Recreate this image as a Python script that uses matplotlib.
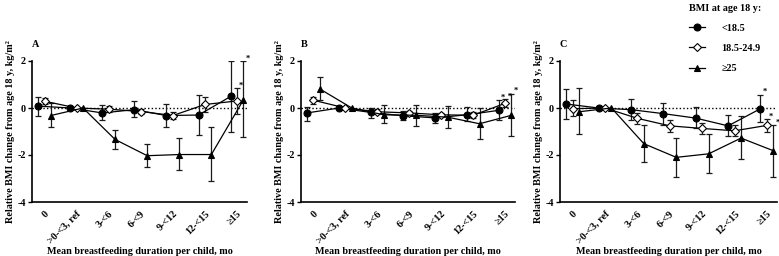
import matplotlib
matplotlib.use("Agg")
import matplotlib.pyplot as plt
from matplotlib.lines import Line2D
import numpy as np

plt.rcParams['font.family'] = ['Liberation Serif', 'DejaVu Serif']
plt.rcParams['font.weight'] = 'bold'

categories = ["0", ">0-<3, ref", "3-<6", "6-<9", "9-<12", "12-<15", "≥15"]
series_names = ["<18.5", "18.5-24.9", "≥25"]
panel_letters = ["A", "B", "C"]

# Panel A
a_low = [0.08, 0.0, -0.21, -0.07, -0.32, -0.30, 0.49]
a_low_hi = [0.48, 0.0, 0.13, 0.28, 0.17, 0.55, 2.0]
a_low_lo = [-0.33, 0.0, -0.50, -0.40, -0.79, -1.16, -1.03]
a_mid = [0.29, 0.0, -0.05, -0.15, -0.32, 0.15, 0.30]
a_mid_hi = [0.42, 0.0, 0.07, -0.03, -0.17, 0.48, 0.85]
a_mid_lo = [0.15, 0.0, -0.17, -0.27, -0.47, -0.18, -0.25]
a_high = [-0.32, 0.0, -1.34, -2.03, -1.98, -1.98, 0.35]
a_high_hi = [0.20, 0.0, -0.92, -1.53, -1.29, -0.82, 2.0]
a_high_lo = [-0.82, 0.0, -1.74, -2.51, -2.63, -3.10, -1.24]

# Panel B
b_low = [-0.21, 0.0, -0.19, -0.33, -0.42, -0.29, -0.10]
b_low_hi = [0.04, 0.0, 0.0, -0.14, -0.21, 0.03, 0.33]
b_low_lo = [-0.55, 0.0, -0.43, -0.53, -0.63, -0.57, -0.53]
b_mid = [0.33, 0.0, -0.16, -0.21, -0.29, -0.31, 0.20]
b_mid_hi = [0.46, 0.0, -0.06, -0.11, -0.20, -0.19, 0.38]
b_mid_lo = [0.18, 0.0, -0.26, -0.31, -0.38, -0.43, 0.04]
b_high = [0.81, 0.0, -0.29, -0.31, -0.39, -0.67, -0.31]
b_high_hi = [1.33, 0.0, 0.11, 0.11, 0.07, 0.0, 0.61]
b_high_lo = [0.33, 0.0, -0.64, -0.76, -0.86, -1.32, -1.18]

# Panel C
c_low = [0.17, 0.0, -0.07, -0.24, -0.43, -0.76, -0.03]
c_low_hi = [0.79, 0.0, 0.39, 0.21, 0.03, -0.29, 0.57]
c_low_lo = [-0.47, 0.0, -0.53, -0.71, -0.86, -1.21, -0.59]
c_mid = [-0.03, 0.0, -0.44, -0.76, -0.87, -0.97, -0.74]
c_mid_hi = [0.32, 0.0, -0.21, -0.53, -0.64, -0.71, -0.48]
c_mid_lo = [-0.36, 0.0, -0.69, -1.00, -1.11, -1.21, -1.00]
c_high = [-0.16, 0.0, -1.52, -2.10, -1.95, -1.28, -1.82]
c_high_hi = [0.87, 0.0, -0.71, -1.28, -1.09, -0.36, -0.74]
c_high_lo = [-1.10, 0.0, -2.30, -2.95, -2.77, -2.16, -2.94]

panels = [
    [(a_low, a_low_lo, a_low_hi), (a_mid, a_mid_lo, a_mid_hi), (a_high, a_high_lo, a_high_hi)],
    [(b_low, b_low_lo, b_low_hi), (b_mid, b_mid_lo, b_mid_hi), (b_high, b_high_lo, b_high_hi)],
    [(c_low, c_low_lo, c_low_hi), (c_mid, c_mid_lo, c_mid_hi), (c_high, c_high_lo, c_high_hi)],
]
# which series carry a significance star at the last category
stars = [[False, True, True], [True, True, True], [True, True, True]]

offsets = [-0.2, 0.0, 0.2]
markers = ['o', 'D', '^']
mfaces = ['black', 'white', 'black']
msizes = [5.0, 3.8, 5.0]

W, H = 779, 256
fig = plt.figure(figsize=(W / 100, H / 100), dpi=100)
axes_px = [(32, 215), (301, 214), (560, 217)]
top_px, bot_px = 61, 202
FS = 7.3

for p, (left, width) in enumerate(axes_px):
    ax = fig.add_axes([left / W, 1 - bot_px / H, width / W, (bot_px - top_px) / H])
    x = np.arange(len(categories))
    ax.axhline(0, color='black', linestyle=(0, (1, 1.6)), linewidth=1.0, zorder=1)
    for s, (vals, lo, hi) in enumerate(panels[p]):
        xs = x + offsets[s]
        vals = np.array(vals); lo = np.array(lo); hi = np.array(hi)
        yerr = np.vstack([vals - lo, hi - vals])
        has_err = (hi - lo) > 0
        ax.errorbar(xs[has_err], vals[has_err], yerr=yerr[:, has_err], fmt='none',
                    ecolor='#1a1a1a', elinewidth=0.9, capsize=2.4, capthick=0.9, zorder=2)
        ax.plot(xs, vals, color='black', linewidth=0.9, marker=markers[s],
                markersize=msizes[s], markerfacecolor=mfaces[s],
                markeredgecolor='black', markeredgewidth=0.8, zorder=3)
        if stars[p][s]:
            ax.annotate('*', xy=(xs[-1], hi[-1]), xytext=(1.5, -1), textcoords='offset points',
                        fontsize=6, ha='left', va='bottom', fontweight='bold',
                        annotation_clip=False)
    ax.set_xlim(-0.39, 6.31)
    ax.set_ylim(-4, 2)
    ax.set_yticks([2, 0, -2, -4])
    ax.set_yticklabels(['2', '0', '-2', '-4'], fontsize=FS, fontweight='bold')
    ax.set_xticks(x)
    ax.set_xticklabels(categories, rotation=45, ha='right', rotation_mode='anchor',
                       fontsize=FS, fontweight='bold')
    ax.tick_params(axis='x', length=0, pad=5)
    ax.tick_params(axis='y', length=3, width=1.0, pad=1.5)
    for side in ['top', 'right']:
        ax.spines[side].set_visible(False)
    for side in ['left', 'bottom']:
        ax.spines[side].set_linewidth(1.2)
    ax.set_xlabel('Mean breastfeeding duration per child, mo', fontsize=FS,
                  fontweight='bold', labelpad=1)
    ax.set_ylabel('Relative BMI change from age 18 y, kg/m²', fontsize=FS,
                  fontweight='bold', labelpad=1.5)
    ax.text(0.0, 1.12, panel_letters[p], transform=ax.transAxes, fontsize=FS,
            fontweight='bold', ha='left', va='center')

handles = [Line2D([0], [0], color='black', linewidth=0.9, marker=markers[s],
                  markersize=msizes[s], markerfacecolor=mfaces[s],
                  markeredgecolor='black', markeredgewidth=0.8) for s in range(3)]
leg = fig.legend(handles, series_names, loc='upper left', bbox_to_anchor=(683 / W, 1.01),
                 frameon=False, title='BMI at age 18 y:', fontsize=FS,
                 title_fontproperties={'weight': 'bold', 'size': FS, 'family': 'Liberation Serif'},
                 handlelength=1.6, handletextpad=1.6, labelspacing=1.1, alignment='left',
                 borderaxespad=0.2)
for t in leg.get_texts():
    t.set_fontweight('bold')

fig.savefig('out.png', dpi=100)
